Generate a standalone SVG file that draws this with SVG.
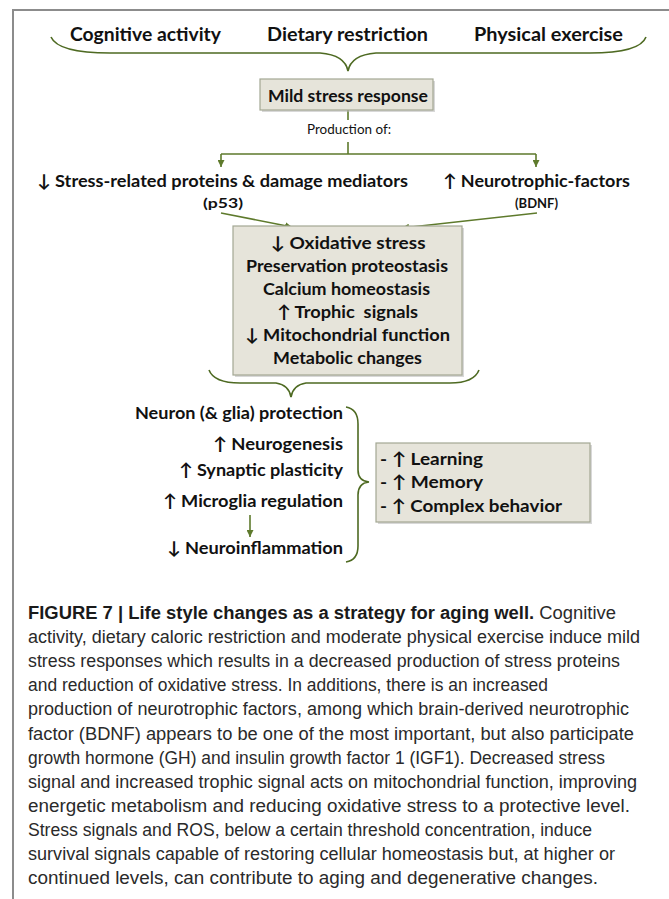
<svg xmlns="http://www.w3.org/2000/svg" width="669" height="899" viewBox="0 0 669 899">
<defs>
<style>
.lbl{font-family:Lato,'DejaVu Sans',sans-serif;font-weight:700;font-size:17.5px;fill:#111}
.top{font-size:18px}
.sm{font-size:13.5px}
.reg{font-family:Lato,'DejaVu Sans',sans-serif;font-weight:400;font-size:13.5px;fill:#111}
.box{fill:#e6e4da;stroke:#a3a793;stroke-width:1.2}
.shadow{fill:#b8b8b8;opacity:.55}
.conn{stroke:#5e7a2c;stroke-width:1.6;fill:none}
.brace{stroke:#4e6a22;stroke-width:1.6;fill:none}
.cap{font-family:'Liberation Sans',Arial,sans-serif;font-size:17.5px;fill:#2a2a2a}
.frame{stroke:#8c8c8c;stroke-width:2;fill:none}
</style>
<marker id="ah" viewBox="0 0 10 10" refX="10" refY="5" markerWidth="7" markerHeight="7" markerUnits="userSpaceOnUse" orient="auto"><path d="M0,0 L10,5 L0,10 z" fill="#5e7a2c"/></marker>
</defs>
<rect width="669" height="899" fill="#fff"/>
<path class="frame" d="M13,899 L13,10 L669,10"/>

<g id="connectors">
<path class="brace" d="M51,37 Q58,53 110,53 L320,53 Q345,55 348,71 Q351,55 376,53 L590,53 Q640,53 646,37"/>
<path class="conn" d="M348,110 L348,120"/>
<path class="conn" d="M348,142 L348,154 M221,154 L536,154"/>
<path class="conn" d="M221,154 L221,167" marker-end="url(#ah)"/>
<path class="conn" d="M536,154 L536,167" marker-end="url(#ah)"/>
<path class="conn" d="M221,213 L292,227" marker-end="url(#ah)"/>
<path class="conn" d="M537,213 L402,228" marker-end="url(#ah)"/>
<path class="brace" d="M209,370 Q214,383 240,383 L276,383 Q289,385 291,397 Q293,385 306,383 L450,383 Q474,383 479,370"/>
<path class="brace" d="M346,407 Q358,409 358,424 L358,470 Q358,481 369,482 Q358,483 358,495 L358,546 Q358,560 346,562"/>
<path class="conn" d="M250,515 L250,537" marker-end="url(#ah)"/>
</g>

<g id="inputs">
<text class="lbl top" x="145.5" y="41" text-anchor="middle" textLength="151" lengthAdjust="spacingAndGlyphs">Cognitive activity</text>
<text class="lbl top" x="347.5" y="41" text-anchor="middle" textLength="161" lengthAdjust="spacingAndGlyphs">Dietary restriction</text>
<text class="lbl top" x="548.5" y="41" text-anchor="middle" textLength="149" lengthAdjust="spacingAndGlyphs">Physical exercise</text>
</g>

<g id="mild-stress">
<rect class="shadow" x="262" y="81" width="173" height="31"/>
<rect class="box" x="260" y="79" width="173" height="31"/>
<text class="lbl" x="348" y="102" text-anchor="middle" textLength="160" lengthAdjust="spacingAndGlyphs">Mild stress response</text>
</g>

<g id="production">
<text class="reg" x="349" y="134" text-anchor="middle" textLength="84" lengthAdjust="spacingAndGlyphs">Production of:</text>
</g>

<g id="stress-proteins">
<text class="lbl" x="37" y="187" textLength="371" lengthAdjust="spacingAndGlyphs">↓ Stress-related proteins &amp; damage mediators</text>
<text class="lbl sm" x="223" y="208" text-anchor="middle" textLength="40" lengthAdjust="spacingAndGlyphs">(p53)</text>
</g>

<g id="neurotrophic">
<text class="lbl" x="443" y="187" textLength="187" lengthAdjust="spacingAndGlyphs">↑ Neurotrophic-factors</text>
<text class="lbl sm" x="536.5" y="208" text-anchor="middle" textLength="43" lengthAdjust="spacingAndGlyphs">(BDNF)</text>
</g>

<g id="effects">
<rect class="shadow" x="235" y="228" width="229" height="149"/>
<rect class="box" x="233" y="226" width="229" height="149"/>
<text class="lbl" x="348" y="249" text-anchor="middle" textLength="155" lengthAdjust="spacingAndGlyphs">↓ Oxidative stress</text>
<text class="lbl" x="347" y="272" text-anchor="middle" textLength="202" lengthAdjust="spacingAndGlyphs">Preservation proteostasis</text>
<text class="lbl" x="346.5" y="295" text-anchor="middle" textLength="167" lengthAdjust="spacingAndGlyphs">Calcium homeostasis</text>
<text class="lbl" x="347.5" y="318" text-anchor="middle" textLength="141" lengthAdjust="spacingAndGlyphs" xml:space="preserve">↑ Trophic  signals</text>
<text class="lbl" x="347.5" y="341" text-anchor="middle" textLength="205" lengthAdjust="spacingAndGlyphs">↓ Mitochondrial function</text>
<text class="lbl" x="347.5" y="364" text-anchor="middle" textLength="149" lengthAdjust="spacingAndGlyphs">Metabolic changes</text>
</g>

<g id="outcomes">
<text class="lbl" x="343" y="419" text-anchor="end" textLength="208" lengthAdjust="spacingAndGlyphs">Neuron (&amp; glia) protection</text>
<text class="lbl" x="343" y="450" text-anchor="end" textLength="130" lengthAdjust="spacingAndGlyphs">↑ Neurogenesis</text>
<text class="lbl" x="343" y="476" text-anchor="end" textLength="164" lengthAdjust="spacingAndGlyphs">↑ Synaptic plasticity</text>
<text class="lbl" x="343" y="507" text-anchor="end" textLength="180" lengthAdjust="spacingAndGlyphs">↑ Microglia regulation</text>
<text class="lbl" x="343" y="554" text-anchor="end" textLength="176" lengthAdjust="spacingAndGlyphs">↓ Neuroinflammation</text>
</g>

<g id="behavior">
<rect class="shadow" x="378" y="445" width="214" height="79"/>
<rect class="box" x="376" y="443" width="214" height="79"/>
<text class="lbl" x="380" y="465" textLength="103" lengthAdjust="spacingAndGlyphs">- ↑ Learning</text>
<text class="lbl" x="380" y="488" textLength="103" lengthAdjust="spacingAndGlyphs">- ↑ Memory</text>
<text class="lbl" x="380" y="512" textLength="182" lengthAdjust="spacingAndGlyphs">- ↑ Complex behavior</text>
</g>

<g id="caption">
<text class="cap" x="28" y="619" textLength="588" lengthAdjust="spacingAndGlyphs"><tspan font-weight="700" fill="#1a1a1a">FIGURE 7 | Life style changes as a strategy for aging well.</tspan> Cognitive</text>
<text class="cap" x="28" y="643.1" textLength="612" lengthAdjust="spacingAndGlyphs">activity, dietary caloric restriction and moderate physical exercise induce mild</text>
<text class="cap" x="28" y="667.2" textLength="592" lengthAdjust="spacingAndGlyphs">stress responses which results in a decreased production of stress proteins</text>
<text class="cap" x="28" y="691.3" textLength="520" lengthAdjust="spacingAndGlyphs">and reduction of oxidative stress. In additions, there is an increased</text>
<text class="cap" x="28" y="715.4" textLength="601" lengthAdjust="spacingAndGlyphs">production of neurotrophic factors, among which brain-derived neurotrophic</text>
<text class="cap" x="28" y="739.5" textLength="606" lengthAdjust="spacingAndGlyphs">factor (BDNF) appears to be one of the most important, but also participate</text>
<text class="cap" x="28" y="763.6" textLength="577" lengthAdjust="spacingAndGlyphs">growth hormone (GH) and insulin growth factor 1 (IGF1). Decreased stress</text>
<text class="cap" x="28" y="787.7" textLength="609" lengthAdjust="spacingAndGlyphs">signal and increased trophic signal acts on mitochondrial function, improving</text>
<text class="cap" x="28" y="811.8" textLength="602" lengthAdjust="spacingAndGlyphs">energetic metabolism and reducing oxidative stress to a protective level.</text>
<text class="cap" x="28" y="835.9" textLength="564" lengthAdjust="spacingAndGlyphs">Stress signals and ROS, below a certain threshold concentration, induce</text>
<text class="cap" x="28" y="860" textLength="587" lengthAdjust="spacingAndGlyphs">survival signals capable of restoring cellular homeostasis but, at higher or</text>
<text class="cap" x="28" y="884.1" textLength="570" lengthAdjust="spacingAndGlyphs">continued levels, can contribute to aging and degenerative changes.</text>
</g>
</svg>
